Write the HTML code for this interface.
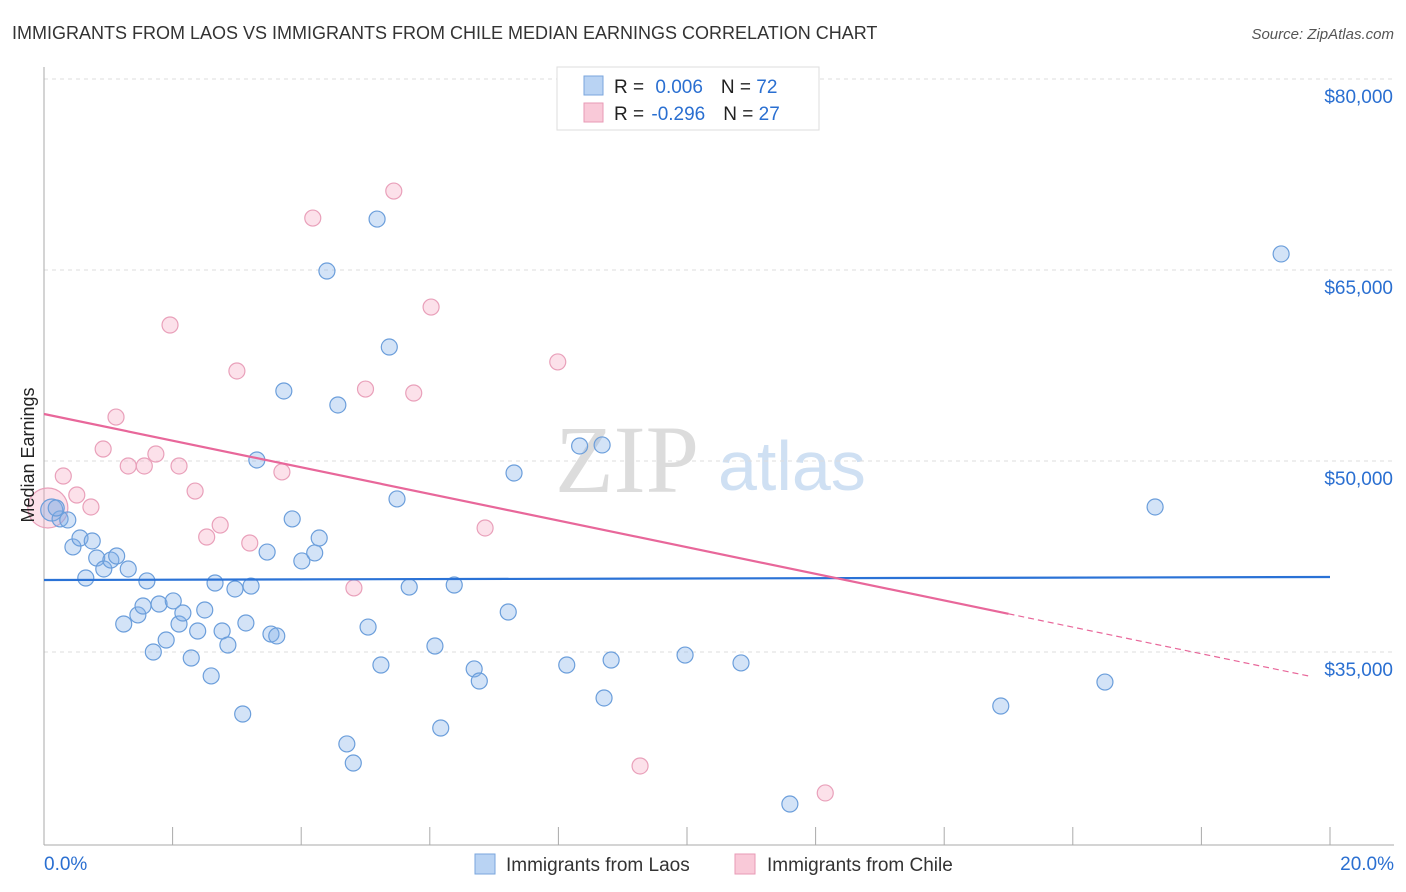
<!DOCTYPE html>
<html><head><meta charset="utf-8"><style>
body{margin:0;background:#fff;font-family:"Liberation Sans",sans-serif;}
svg{display:block}
</style></head><body>
<svg width="1406" height="892" viewBox="0 0 1406 892" id="chart">
<text x="12" y="39" font-size="18" fill="#333">IMMIGRANTS FROM LAOS VS IMMIGRANTS FROM CHILE MEDIAN EARNINGS CORRELATION CHART</text>
<text x="1394" y="39" font-size="15" fill="#555" font-style="italic" text-anchor="end">Source: ZipAtlas.com</text>
<g>
<text x="555" y="492" font-size="96" fill="#dcdcdc" font-family="Liberation Serif,serif">ZIP</text>
<text x="718" y="490" font-size="70" fill="#cfe0f3">atlas</text>
</g>
<g id="grid"></g>
<g id="axes"></g>
<g id="marks"></g>
<text transform="translate(34,455) rotate(-90)" font-size="18" fill="#222" text-anchor="middle">Median Earnings</text>
<g>
<rect x="557" y="67" width="262" height="63" fill="#fff" stroke="#ddd"/>
<rect x="584" y="76" width="19" height="19" fill="#b9d3f3" stroke="#7aa6dd"/>
<rect x="584" y="103" width="19" height="19" fill="#f9c9d8" stroke="#e89ab6"/>
<text x="614" y="93" font-size="19" fill="#222">R = <tspan fill="#2a6fd1" dx="6">0.006</tspan><tspan dx="18" fill="#222">N = </tspan><tspan fill="#2a6fd1">72</tspan></text>
<text x="614" y="120" font-size="19" fill="#222">R = <tspan fill="#2a6fd1" dx="2">-0.296</tspan><tspan dx="18" fill="#222">N = </tspan><tspan fill="#2a6fd1">27</tspan></text>
</g>
<g>
<rect x="475" y="854" width="20" height="20" fill="#b9d3f3" stroke="#7aa6dd"/>
<text x="506" y="871" font-size="19" fill="#333">Immigrants from Laos</text>
<rect x="735" y="854" width="20" height="20" fill="#f9c9d8" stroke="#e89ab6"/>
<text x="767" y="871" font-size="19" fill="#333">Immigrants from Chile</text>
</g>
</svg>
<script>
const yTicks=[80000,65000,50000,35000];
const yTickLabels=["$80,000","$65,000","$50,000","$35,000"];
const xTickLabels=["0.0%","20.0%"];
const laosX=[0.12,0.25,0.37,0.45,0.56,0.65,0.75,0.82,0.93,1.04,1.13,1.31,1.24,1.46,1.54,1.60,1.70,1.79,1.90,2.01,2.10,2.16,2.29,2.39,2.50,2.60,2.66,2.77,2.86,2.97,3.09,3.14,3.22,3.31,3.47,3.53,3.62,3.73,3.86,4.01,4.21,4.28,4.40,4.57,4.71,4.81,5.04,5.18,5.24,5.37,5.49,5.68,6.08,6.17,6.38,6.69,6.77,7.22,7.31,8.13,8.33,8.68,8.71,8.82,9.97,10.84,11.60,14.88,16.50,17.28,19.24,0.19];
const laosY=[46150,45450,45370,43250,43950,40810,43720,42380,41520,42220,42540,41520,37200,37910,38610,40580,35000,38770,35940,39010,37200,38060,34530,36650,38300,33120,40420,36650,35550,39950,30130,37280,40180,50080,42850,36410,36260,55500,45450,42150,42780,43950,64920,54400,27780,26280,36960,69000,33980,58950,47020,40100,35470,29030,40260,33670,32720,38140,49060,33980,51180,51260,31390,34370,34760,34140,23060,30760,32640,46390,66260,46310];
const chileX=[0.06,0.30,0.51,0.73,0.92,1.12,1.31,1.56,1.74,1.96,2.10,2.35,2.53,2.74,3.00,3.20,3.70,4.18,4.82,5.00,5.44,5.75,6.02,6.86,7.99,9.27,12.15];
const chileY=[46310,48820,47330,46390,50940,53450,49610,49610,50550,60680,49610,47640,44030,44970,57070,43560,49140,69080,40030,55650,71200,55340,62090,44740,57780,26050,23930];
const laosTrend=[40655,40890];
const chileTrend=[53690,32770];
const NS="http://www.w3.org/2000/svg";
const X=p=>44+p*1286/20;
const Y=v=>79+(80000-v)*191/15000;
function el(t,a,parent){const e=document.createElementNS(NS,t);for(const k in a)e.setAttribute(k,a[k]);document.getElementById(parent).appendChild(e);return e;}
yTicks.forEach((v,i)=>{
 const g=el('line',{x1:44,x2:1394,y1:Y(v),y2:Y(v),stroke:'#ddd','stroke-dasharray':'4,4'},'grid');
 
 
 const t=el('text',{x:1393,y:Y(v)+24,'font-size':19,fill:'#2a6fd1','text-anchor':'end'},'axes');
 t.textContent=yTickLabels[i];
 
 
});
const ax=el('line',{x1:44,x2:44,y1:67,y2:845,stroke:'#aaa'},'axes');


const bx=el('line',{x1:44,x2:1394,y1:845,y2:845,stroke:'#aaa'},'axes');


for(let i=0;i<=10;i++){
 const tk=el('line',{x1:X(i*2),x2:X(i*2),y1:827,y2:845,stroke:'#aaa'},'axes');
 
 
}
[[0,'start',44],[20,'end',1394]].forEach((d,i)=>{
 const t=el('text',{x:d[2],y:870,'font-size':19,fill:'#2a6fd1','text-anchor':d[1]},'axes');
 t.textContent=xTickLabels[i];
 
 
});
chileX.forEach((x,i)=>{
 const c=el('circle',{cx:X(x),cy:Y(chileY[i]),r:i==0?20:8,fill:'rgba(245,170,196,0.35)',stroke:'#e9a0ba','stroke-width':1.2},'marks');
 
 
});
laosX.forEach((x,i)=>{
 const c=el('circle',{cx:X(x),cy:Y(laosY[i]),r:i==0?11:8,fill:'rgba(130,175,232,0.35)',stroke:'#6b9edb','stroke-width':1.2},'marks');
 
 
});
const lt=el('line',{x1:X(0),y1:Y(laosTrend[0]),x2:X(20),y2:Y(laosTrend[1]),stroke:'#2a72d6','stroke-width':2.2},'marks');


const cm=chileTrend[0]+(chileTrend[1]-chileTrend[0])*15/20;
const ct=el('line',{x1:X(0),y1:Y(chileTrend[0]),x2:X(15),y2:Y(cm),stroke:'#e8679a','stroke-width':2.2},'marks');


const cd=el('line',{x1:X(15),y1:Y(cm),x2:X(19.7),y2:Y(chileTrend[0]+(chileTrend[1]-chileTrend[0])*19.7/20),stroke:'#e8679a','stroke-width':1.2,'stroke-dasharray':'6,4'},'marks');


</script>
</body></html>
